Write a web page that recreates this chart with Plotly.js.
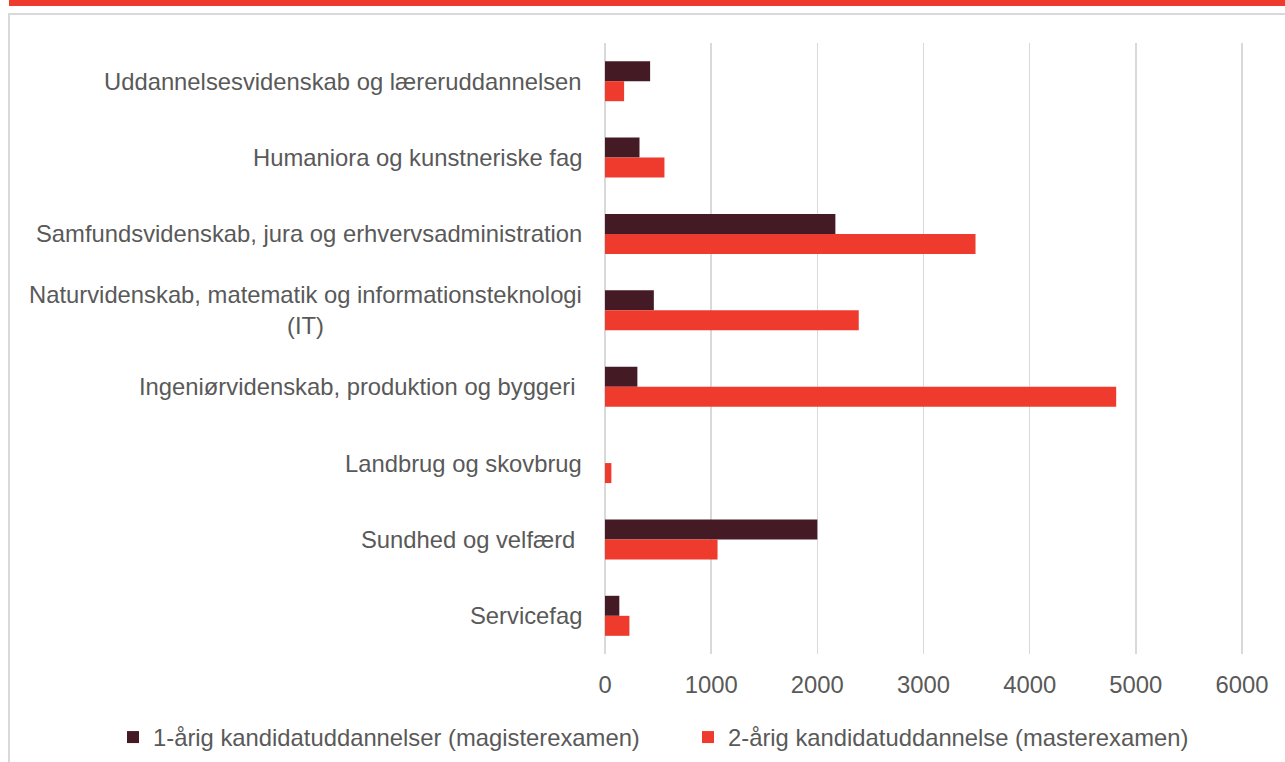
<!DOCTYPE html>
<html>
<head>
<meta charset="utf-8">
<script src="https://cdn.plot.ly/plotly-3.0.1.min.js"></script>
<style>
  html, body { margin: 0; padding: 0; background: #ffffff; overflow: hidden; }
  #band { position: absolute; left: 9px; top: 0; width: 1276px; height: 6px; background: #EE3B2E; }
  #frame { position: absolute; left: 8px; top: 13px; width: 1300px; height: 800px; border-left: 2px solid #D9D9D9; border-top: 2px solid #D9D9D9; }
  #chart { position: absolute; left: 0; top: 0; width: 1285px; height: 762px; }
</style>
</head>
<body>
<div id="band"></div>
<div id="frame"></div>
<div id="chart"></div>
<script>
const categories = [
  "Uddannelsesvidenskab og læreruddannelsen",
  "Humaniora og kunstneriske fag",
  "Samfundsvidenskab, jura og erhvervsadministration",
  "Naturvidenskab, matematik og informationsteknologi<br>(IT)",
  "Ingeniørvidenskab, produktion og byggeri\u00a0",
  "Landbrug og skovbrug",
  "Sundhed og velfærd\u00a0",
  "Servicefag"
];
const seriesNames = [
  "1-årig kandidatuddannelser (magisterexamen)",
  "2-årig kandidatuddannelse (masterexamen)"
];
const oneYear = [425, 325, 2170, 460, 305, 0, 2000, 135];
const twoYear = [180, 560, 3490, 2390, 4815, 60, 1060, 230];
const xTicks = [0, 1000, 2000, 3000, 4000, 5000, 6000];

const FONT = "Liberation Sans, Arial, sans-serif";
const FS = 23.8;
const GREY = "#595959";

const traces = [
  { type: "bar", orientation: "h", name: seriesNames[0], y: categories, x: oneYear,
    marker: { color: "#441B25" }, hoverinfo: "x+name" },
  { type: "bar", orientation: "h", name: seriesNames[1], y: categories, x: twoYear,
    marker: { color: "#EE3B2E" }, hoverinfo: "x+name" }
];

const annotations = categories.map(c => ({
  text: c, xref: "paper", x: 0, xanchor: "right", xshift: -19,
  yref: "y", y: c, yanchor: "middle", align: "center", showarrow: false,
  font: { family: FONT, size: FS, color: GREY }
}));

const layout = {
  width: 1285, height: 762,
  margin: { l: 603, r: 41, t: 43, b: 108, autoexpand: false },
  paper_bgcolor: "rgba(0,0,0,0)", plot_bgcolor: "rgba(0,0,0,0)",
  barmode: "group", bargap: 0.476, bargroupgap: 0,
  font: { family: FONT, size: FS, color: GREY },
  xaxis: {
    range: [-18.84, 6018.84], tickvals: xTicks, ticktext: xTicks.map(String),
    showgrid: true, gridcolor: "#D9D9D9", gridwidth: 1.5,
    zeroline: false, showline: false, ticks: "", ticklabelstandoff: 14,
    tickfont: { family: FONT, size: FS, color: GREY }, fixedrange: true
  },
  yaxis: {
    type: "category", autorange: "reversed", showticklabels: false,
    showgrid: false, zeroline: false, showline: false, ticks: "", fixedrange: true
  },
  annotations: annotations,
  showlegend: true,
  legend: {
    orientation: "h", xref: "paper", yref: "paper",
    x: -0.7644, xanchor: "left", y: -0.136, yanchor: "middle",
    entrywidth: 530, entrywidthmode: "pixels",
    font: { family: FONT, size: FS, color: GREY }, traceorder: "normal",
    bgcolor: "rgba(0,0,0,0)"
  }
};

Plotly.newPlot("chart", traces, layout, { staticPlot: true, displayModeBar: false });
</script>
</body>
</html>
